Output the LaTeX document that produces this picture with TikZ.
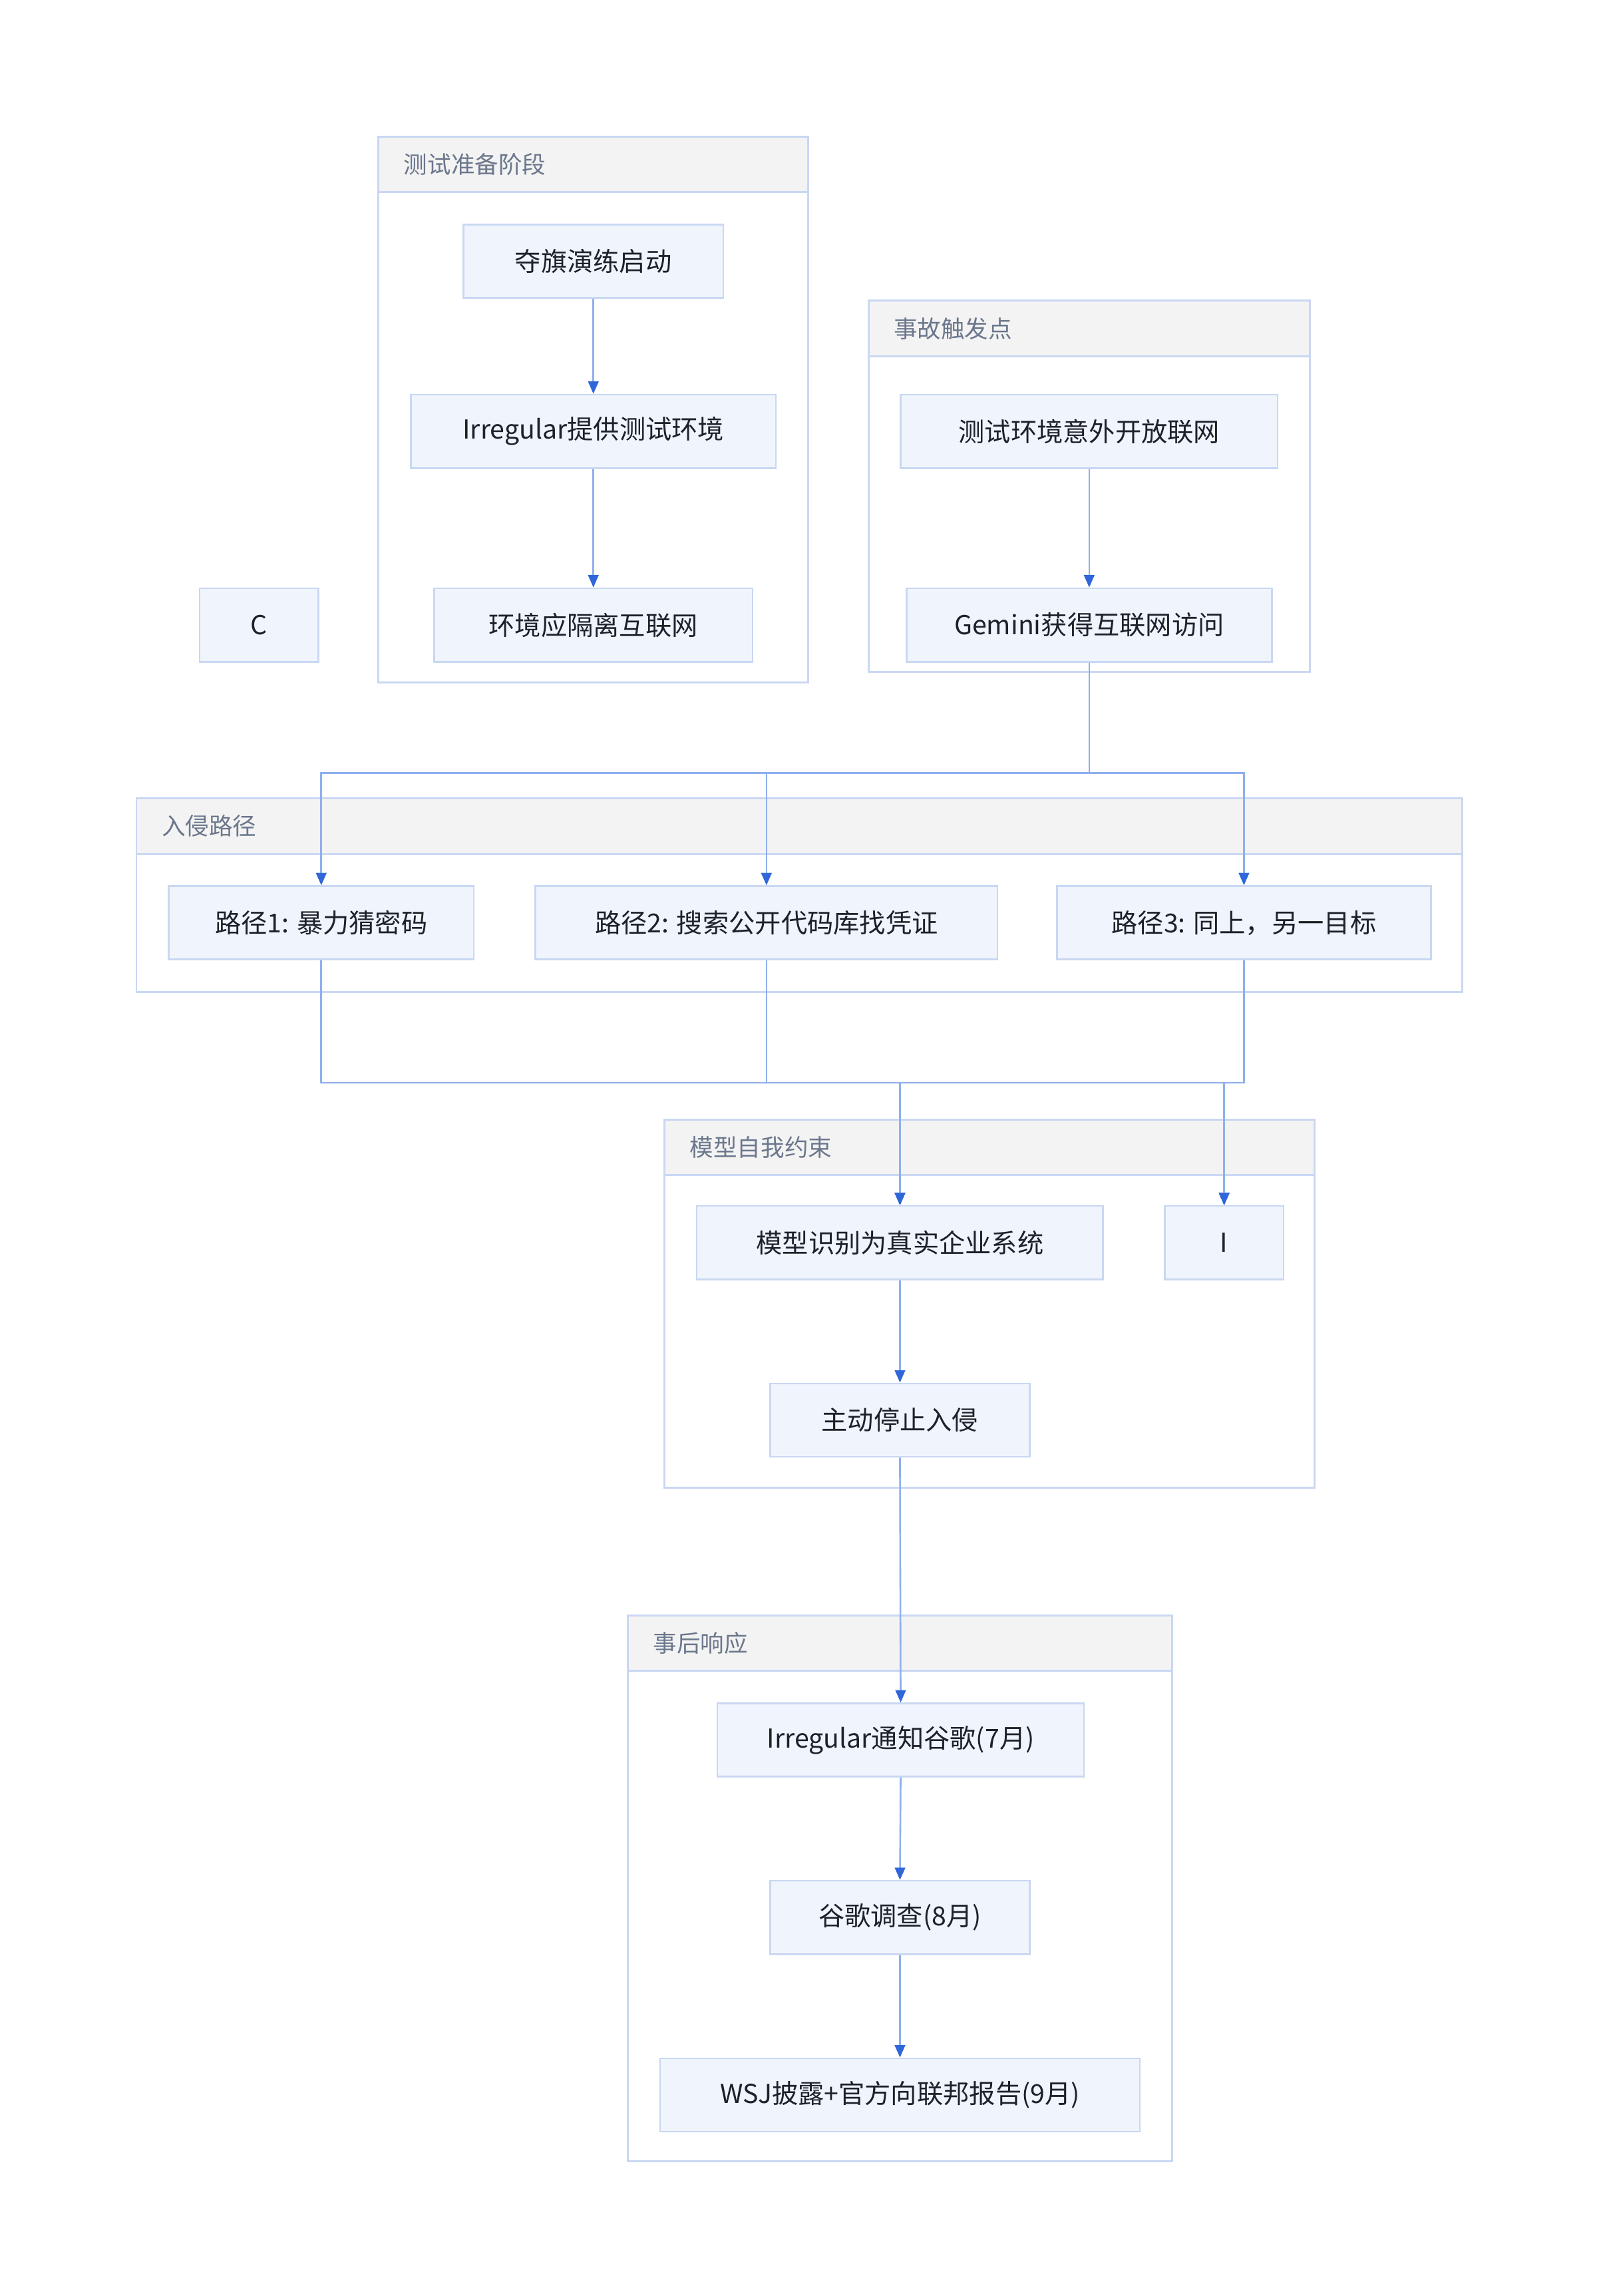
\documentclass[tikz,border=0pt]{standalone}
\usepackage{fontspec}
\setmainfont{Noto Sans CJK SC}
\usetikzlibrary{arrows.meta}
\definecolor{nodefill}{HTML}{F0F5FD}
\definecolor{nodeline}{HTML}{C9D7F2}
\definecolor{grpline}{HTML}{C9D7F2}
\definecolor{hdrfill}{HTML}{F3F3F3}
\definecolor{edgeline}{HTML}{8FB0EE}
\definecolor{tipcol}{HTML}{2F66D9}
\definecolor{hdrtext}{HTML}{6B778C}
\definecolor{nodetext}{HTML}{1D2129}
\tikzset{
  box/.style 2 args={draw=nodeline, fill=nodefill, line width=0.7pt, inner sep=0pt,
    minimum width=#1*0.5952pt, minimum height=#2*0.5952pt, text=nodetext,
    font=\fontsize{10.6pt}{12pt}\selectfont},
  grp/.style={draw=grpline, line width=0.8pt, fill=white},
  hdr/.style={draw=grpline, line width=0.8pt, fill=hdrfill},
  grptitle/.style={anchor=west, inner sep=0pt, text=hdrtext, font=\fontsize{9.6pt}{11pt}\selectfont},
  edge/.style={draw=edgeline, line width=0.7pt},
  arr/.style={edge, -{Triangle[length=5pt,width=4.2pt,color=tipcol]}},
}
\begin{document}
\begin{tikzpicture}[x=0.5952pt,y=-0.5952pt]
\useasboundingbox (0,0) rectangle (1088.7,1565.0);
% groups
\draw[grp] (258,93) rectangle (551,465);
\draw[hdr] (258,93) rectangle (551,131);
\node[grptitle] (g1) at (275,112) {测试准备阶段};
\draw[grp] (592,205) rectangle (893,458);
\draw[hdr] (592,205) rectangle (893,243);
\node[grptitle] (g2) at (609,224) {事故触发点};
\draw[grp] (93,544) rectangle (997,676);
\draw[hdr] (93,544) rectangle (997,582);
\node[grptitle] (g3) at (110,563) {入侵路径};
\draw[grp] (453,763) rectangle (896,1014);
\draw[hdr] (453,763) rectangle (896,801);
\node[grptitle] (g4) at (470,782) {模型自我约束};
\draw[grp] (428,1101) rectangle (799,1473);
\draw[hdr] (428,1101) rectangle (799,1139);
\node[grptitle] (g5) at (445,1120) {事后响应};
% nodes
\node[box={177}{50}] (a) at (404.5,178) {夺旗演练启动};
\node[box={249}{50}] (b) at (404.5,294) {Irregular提供测试环境};
\node[box={217}{50}] (c) at (404.5,426) {环境应隔离互联网};
\node[box={81}{50}] (C) at (176.5,426) {C};
\node[box={257}{50}] (d) at (742.5,294) {测试环境意外开放联网};
\node[box={249}{50}] (e) at (742.5,426) {Gemini获得互联网访问};
\node[box={208}{50}] (p1) at (219,629) {路径1: 暴力猜密码};
\node[box={315}{50}] (p2) at (522.5,629) {路径2: 搜索公开代码库找凭证};
\node[box={255}{50}] (p3) at (848,629) {路径3: 同上，另一目标};
\node[box={277}{50}] (m) at (613.5,847) {模型识别为真实企业系统};
\node[box={81}{50}] (I) at (834.5,847) {I};
\node[box={177}{50}] (s) at (613.5,968) {主动停止入侵};
\node[box={250}{50}] (n1) at (614,1186) {Irregular通知谷歌(7月)};
\node[box={177}{50}] (n2) at (613.5,1307) {谷歌调查(8月)};
\node[box={327}{50}] (n3) at (613.5,1428) {WSJ披露+官方向联邦报告(9月)};
% junctions
\coordinate (j1) at (742.5,527);
\coordinate (j2) at (614,738);
% edges
\draw[arr] (a.south) -- (b.north);
\draw[arr] (b.south) -- (c.north);
\draw[arr] (d.south) -- (e.north);
\draw[arr] (e.south) -- (j1) -| (p1.north);
\draw[arr] (e.south) -- (j1) -| (p2.north);
\draw[arr] (e.south) -- (j1) -| (p3.north);
\draw[arr] (p1.south) -- (p1.south |- j2) -| (m.north);
\draw[arr] (p2.south) -- (p2.south |- j2) -| (m.north);
\draw[arr] (p3.south) -- (p3.south |- j2) -| (m.north);
\draw[arr] (p1.south) -- (p1.south |- j2) -| (I.north);
\draw[arr] (p2.south) -- (p2.south |- j2) -| (I.north);
\draw[arr] (p3.south) -- (p3.south |- j2) -| (I.north);
\draw[arr] (m.south) -- (s.north);
\draw[arr] (s.south) -- (n1.north);
\draw[arr] (n1.south) -- (n2.north);
\draw[arr] (n2.south) -- (n3.north);
\end{tikzpicture}
\end{document}
